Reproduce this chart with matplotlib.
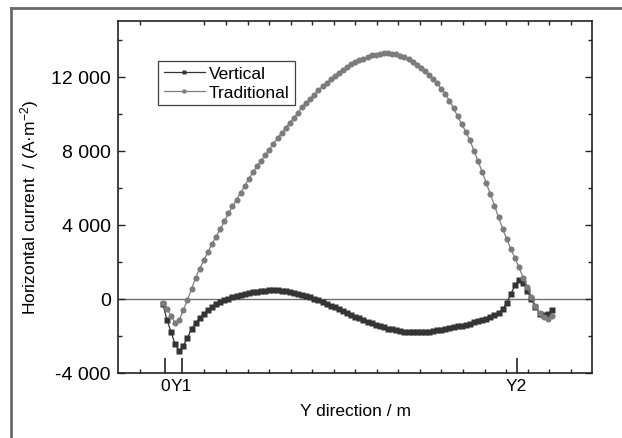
import matplotlib
matplotlib.use('Agg')
import matplotlib.pyplot as plt
from matplotlib.lines import Line2D
from matplotlib.ticker import FixedLocator, FixedFormatter, MultipleLocator

plt.rcParams['font.family'] = ['Liberation Sans', 'DejaVu Sans']
plt.rcParams['mathtext.fontset'] = 'custom'
plt.rcParams['mathtext.rm'] = 'Liberation Sans'
plt.rcParams['mathtext.it'] = 'Liberation Sans:italic'
plt.rcParams['mathtext.bf'] = 'Liberation Sans:bold'

# ---------------- data ----------------
x_pos = [2.07, 2.26, 2.45, 2.64, 2.83, 3.02, 3.21, 3.40, 3.59, 3.78,
         3.97, 4.16, 4.35, 4.54, 4.73, 4.92, 5.11, 5.30, 5.49, 5.68,
         5.87, 6.06, 6.25, 6.44, 6.63, 6.82, 7.01, 7.20, 7.39, 7.58,
         7.77, 7.96, 8.15, 8.34, 8.53, 8.72, 8.91, 9.10, 9.29, 9.48,
         9.67, 9.86, 10.05, 10.24, 10.43, 10.62, 10.81, 11.00, 11.19, 11.38,
         11.57, 11.76, 11.95, 12.14, 12.33, 12.52, 12.71, 12.90, 13.09, 13.28,
         13.47, 13.66, 13.85, 14.04, 14.23, 14.42, 14.61, 14.80, 14.99, 15.18,
         15.37, 15.56, 15.75, 15.94, 16.13, 16.32, 16.51, 16.70, 16.89, 17.08,
         17.27, 17.46, 17.65, 17.84, 18.03, 18.22, 18.41, 18.60, 18.79, 18.98,
         19.17, 19.36, 19.55, 19.74, 19.93, 20.12]

vertical = [-300, -1130, -1800, -2450, -2820, -2520, -2100, -1620, -1300, -1030,
            -790, -610, -440, -300, -170, -70, 20, 100, 160, 215,
            265, 310, 350, 385, 415, 440, 455, 465, 462, 450,
            425, 390, 345, 290, 225, 160, 90, 15, -60, -160,
            -260, -360, -460, -560, -660, -760, -860, -960, -1050, -1140,
            -1230, -1320, -1400, -1470, -1540, -1600, -1650, -1700, -1730, -1760,
            -1780, -1790, -1795, -1790, -1780, -1760, -1735, -1705, -1670, -1630,
            -1590, -1540, -1490, -1440, -1385, -1330, -1270, -1200, -1130, -1060,
            -980, -880, -760, -560, -200, 250, 750, 1000, 880, 430,
            -30, -430, -790, -850, -810, -620]

traditional = [-200, -530, -930, -1300, -1150, -600, -40, 520, 1150, 1640,
               2080, 2530, 2980, 3360, 3760, 4180, 4620, 4990, 5360, 5730,
               6100, 6480, 6830, 7160, 7470, 7760, 8060, 8380, 8680, 8960,
               9230, 9500, 9790, 10060, 10350, 10590, 10810, 11030, 11260, 11480,
               11660, 11850, 12040, 12220, 12380, 12520, 12660, 12770, 12870, 12970,
               13060, 13140, 13190, 13230, 13250, 13260, 13240, 13200, 13130, 13040,
               12940, 12800, 12650, 12480, 12290, 12100, 11880, 11630, 11350, 11060,
               10700, 10300, 9850, 9430, 9020, 8560, 8000, 7430, 6850, 6250,
               5650, 5030, 4400, 3780, 3220, 2700, 2200, 1700, 1150, 640,
               120, -380, -760, -960, -1060, -950]

x_tick_pos = [2.17, 2.94, 18.49]
x_tick_labels = ['0', 'Y1', 'Y2']
y_tick_vals = [-4000, 0, 4000, 8000, 12000]
y_tick_labels = ['-4 000', '0', '4 000', '8 000', '12 000']
series_labels = ['Vertical', 'Traditional']

# ---------------- figure ----------------
W, H = 622, 439
fig = plt.figure(figsize=(W / 100, H / 100), dpi=100)
ax = fig.add_axes([118.3 / W, (H - 374) / H, 474 / W, 352 / H])

c_vert = '#343434'
c_trad = '#7c7c7c'

ax.axhline(0, color='#6f6f6f', lw=1.0, zorder=1)
ax.plot(x_pos, vertical, color=c_vert, lw=0.9, marker='s', ms=4.0,
        mec='none', mfc=c_vert, zorder=2)
ax.plot(x_pos, traditional, color=c_trad, lw=0.9, marker='o', ms=4.4,
        mec='none', mfc=c_trad, zorder=3)

ax.set_xlim(0, 22)
ax.set_ylim(-4000, 15000)

ax.xaxis.set_major_locator(FixedLocator(x_tick_pos))
ax.xaxis.set_major_formatter(FixedFormatter(x_tick_labels))
ax.xaxis.set_minor_locator(FixedLocator([k for k in range(1, 22) if k not in (2, 3)]))
ax.yaxis.set_major_locator(FixedLocator(y_tick_vals))
ax.yaxis.set_major_formatter(FixedFormatter(y_tick_labels))
ax.yaxis.set_minor_locator(MultipleLocator(2000))

ax.tick_params(axis='y', which='both', direction='in', left=True, right=True,
               labelsize=14, pad=5.5, color='#222222')
ax.tick_params(axis='y', which='major', length=5, width=1)
ax.tick_params(axis='y', which='minor', length=3, width=1)
ax.tick_params(axis='x', which='major', direction='in', length=11, width=1.2,
               top=False, bottom=True, labelsize=12.5, pad=3.5, color='#222222')
ax.tick_params(axis='x', which='minor', direction='in', length=3, width=1,
               top=True, bottom=True, color='#222222')

for s in ax.spines.values():
    s.set_color('#222222')
    s.set_linewidth(1.2)

ax.set_xlabel('Y direction / m', fontsize=12.5)
ax.xaxis.set_label_coords(0.5, -0.085)
ax.set_ylabel('Horizontal current  / (A\u00b7m$^{-2}$)', fontsize=12.5)
ax.yaxis.set_label_coords(-0.163, 0.474)

handles = [Line2D([], [], color=c_vert, lw=0.9, marker='s', ms=3.0, mec='none'),
           Line2D([], [], color=c_trad, lw=0.9, marker='o', ms=3.2, mec='none')]
leg = ax.legend(handles, series_labels, loc='upper left',
                bbox_to_anchor=(40 / 474, (374 - 62) / 352), borderaxespad=0,
                frameon=True, fancybox=False, edgecolor='#111111', fontsize=12.5,
                handlelength=2.4, handletextpad=0.2, labelspacing=0.2,
                borderpad=0.3)
leg.get_frame().set_linewidth(0.9)

# outer frame (left and top edges)
fig.add_artist(Line2D([11 / W, 11 / W], [0, 1 - 8.5 / H], transform=fig.transFigure,
                      color='#5a5a5a', lw=1.8))
fig.add_artist(Line2D([11 / W, 1], [1 - 8.5 / H, 1 - 8.5 / H], transform=fig.transFigure,
                      color='#6a6a6a', lw=2.0))

fig.savefig('out.png', dpi=100)
